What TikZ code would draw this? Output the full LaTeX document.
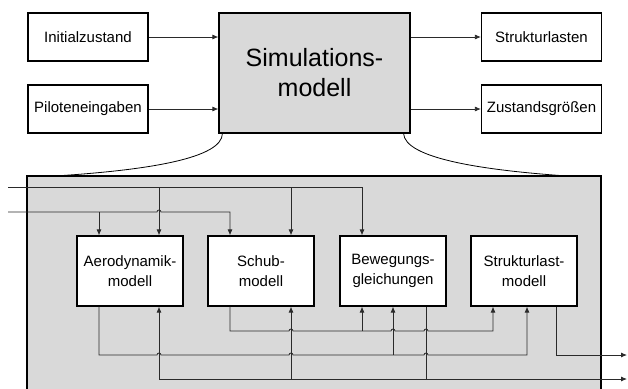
\documentclass[tikz,border=0pt]{standalone}
\usepackage{fontspec}
\setmainfont{Liberation Sans}
\usepackage{xcolor}
\usepackage{tikz}
\usetikzlibrary{arrows.meta, positioning, calc}
\definecolor{SimGray}{HTML}{D9D9D9}
\definecolor{FlowGray}{HTML}{2A2A2A}

\begin{document}
\begin{tikzpicture}[x=1pt, y=-1pt,
    box/.style={draw, line width=1.2pt, fill=white, minimum width=120pt, minimum height=48pt, inner sep=0pt, font=\fontsize{15}{18}\selectfont},
    simbox/.style={box, fill=SimGray, minimum width=191pt, minimum height=120pt, align=center, font=\fontsize{25}{30}\selectfont},
    subbox/.style={box, minimum width=106pt, minimum height=70pt, align=center, font=\fontsize{15}{20}\selectfont},
    sig/.style={draw=FlowGray, line width=0.8pt},
    arr/.style={sig, -{Latex[length=6pt, width=5pt]}},
    zoomline/.style={draw=black, line width=0.8pt}
]
\useasboundingbox (0,0) rectangle (628,388);

% Top level
\node[box] (init) at (88,37) {Initialzustand};
\node[box] (pilot) at (88,109) {Piloteneingaben};
\node[simbox] (sim) at (314.5,73) {Simulations-\\modell};
\node[box] (slasten) at (541.5,37) {Strukturlasten};
\node[box] (zust) at (541.5,109) {Zustandsgrößen};

\draw[arr] (init) -- (init -| sim.west);
\draw[arr] (pilot) -- (pilot -| sim.west);
\draw[arr] (slasten -| sim.east) -- (slasten);
\draw[arr] (zust -| sim.east) -- (zust);

% Detail box
\draw[line width=1.2pt, fill=SimGray] (27,176) rectangle (601,392);
\draw[zoomline] ([xshift=4pt]sim.south west) .. controls (222,158) and (150,170) .. (55,176);
\draw[zoomline] ([xshift=-7pt]sim.south east) .. controls (405,158) and (480,170) .. (567,176);

% Row of submodels
\node[subbox] (aero) at (130,271) {Aerodynamik-\\modell};
\node[subbox] (schub) at (261,271) {Schub-\\modell};
\node[subbox] (bew) at (393,271) {Bewegungs-\\gleichungen};
\node[subbox] (slast) at (524,271) {Strukturlast-\\modell};

% Ports
\coordinate (a1) at ([xshift=-31pt]aero.north);
\coordinate (a2) at ([xshift=29pt]aero.north);
\coordinate (s1) at ([xshift=-31pt]schub.north);
\coordinate (s2) at ([xshift=30pt]schub.north);
\coordinate (b1) at ([xshift=-31pt]bew.north);
\coordinate (b2) at (bew.north);
\coordinate (b3) at ([xshift=33pt]bew.north);
\coordinate (l1) at ([xshift=-31pt]slast.north);
\coordinate (l2) at ([xshift=3pt]slast.north);
\coordinate (l3) at ([xshift=32pt]slast.north);

% Signal levels
\coordinate (in1) at (8,187);
\coordinate (in2) at (8,212);
\coordinate (yB) at (0,331);
\coordinate (yA) at (0,355);
\coordinate (yC) at (0,379);
\coordinate (outA) at (627,355);
\coordinate (outC) at (627,379);

% Inputs
\draw[arr] (in1) -| (b1);
\draw[arr] (a2 |- in1) -- (a2);
\draw[arr] (s2 |- in1) -- (s2);
\draw[arr] (in2) -- ($(a2 |- in2)-(2,0)$) arc (180:360:2) -| (s1);
\draw[arr] (a1 |- in2) -- (a1);

% Outputs and feedback
\draw[arr] (a1 |- aero.south) |- ($(a2 |- yA)-(2,0)$) arc (180:360:2)
    -- ($(s2 |- yA)-(2,0)$) arc (180:360:2)
    -- ($(b3 |- yA)-(2,0)$) arc (180:360:2) -| (l2 |- slast.south);
\draw[arr] (b2 |- yA) -- (b2 |- bew.south);

\draw[arr] (s1 |- schub.south) |- ($(s2 |- yB)-(2,0)$) arc (180:360:2)
    -- ($(b2 |- yB)-(2,0)$) arc (180:360:2)
    -- ($(b3 |- yB)-(2,0)$) arc (180:360:2) -| (l1 |- slast.south);
\draw[arr] (b1 |- yB) -- (b1 |- bew.south);

\draw[arr] (b3 |- bew.south) |- (a2 |- yC) -- (a2 |- aero.south);
\draw[arr] (s2 |- yC) -- (s2 |- schub.south);
\draw[arr] (b3 |- yC) -- (outC);

\draw[arr] (l3 |- slast.south) |- (outA);
\end{tikzpicture}
\end{document}
